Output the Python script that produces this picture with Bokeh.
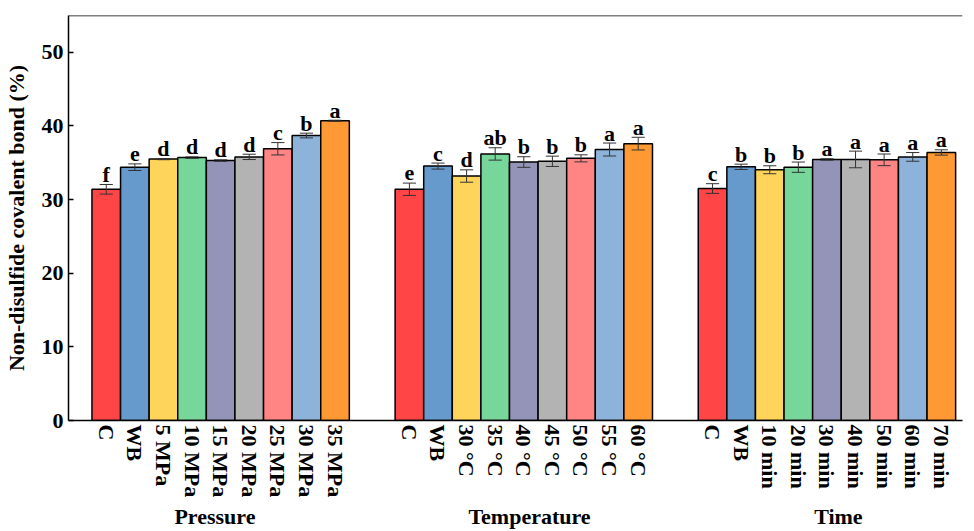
from bokeh.plotting import figure
from bokeh.models import Range1d, LinearAxis, FixedTicker, Span, ColumnDataSource
from bokeh.embed import file_html
from bokeh.resources import INLINE
from bokeh.core.properties import value

groups = ["Pressure", "Temperature", "Time"]

pressure_labels = ["C", "WB", "5 MPa", "10 MPa", "15 MPa", "20 MPa", "25 MPa", "30 MPa", "35 MPa"]
pressure_mean = [31.4, 34.4, 35.5, 35.7, 35.3, 35.8, 36.9, 38.7, 40.7]
pressure_sd = [0.65, 0.45, 0.08, 0.1, 0.1, 0.36, 0.84, 0.32, 0.08]
pressure_letters = ["f", "e", "d", "d", "d", "d", "c", "b", "a"]

temperature_labels = ["C", "WB", "30 °C", "35 °C", "40 °C", "45 °C", "50 °C", "55 °C", "60 °C"]
temperature_mean = [31.4, 34.55, 33.2, 36.2, 35.1, 35.2, 35.6, 36.8, 37.6]
temperature_sd = [0.84, 0.41, 0.84, 0.84, 0.72, 0.7, 0.48, 0.88, 0.86]
temperature_letters = ["e", "c", "d", "ab", "b", "b", "b", "a", "a"]

time_labels = ["C", "WB", "10 min", "20 min", "30 min", "40 min", "50 min", "60 min", "70 min"]
time_mean = [31.5, 34.45, 34.05, 34.4, 35.45, 35.45, 35.4, 35.8, 36.4]
time_sd = [0.66, 0.36, 0.54, 0.7, 0.1, 1.13, 0.79, 0.59, 0.36]
time_letters = ["c", "b", "b", "b", "a", "a", "a", "a", "a"]

bar_colors = ["#FF4545", "#6699CC", "#FFD45A", "#77D69A", "#9494B8",
              "#B3B3B3", "#FF8585", "#8DB3DA", "#FF9933"]

y_ticks = [0, 10, 20, 30, 40, 50]

FONT_NAME = "Liberation Serif"
FONT = value(FONT_NAME)
FS = "22px"

# layout in bar units (1 bar = 5 x-units)
BAR = 5
GROUP_STEP = 53
group_label_shift = [-1, 1, 2]

labels_all = pressure_labels + temperature_labels + time_labels
means_all = pressure_mean + temperature_mean + time_mean
sds_all = pressure_sd + temperature_sd + time_sd
letters_all = pressure_letters + temperature_letters + time_letters
xs = [g * GROUP_STEP + BAR * i for g in range(3) for i in range(9)]
cols = bar_colors * 3
cap = 1.15

src = ColumnDataSource(dict(
    x=xs, top=means_all,
    lo=[m - s for m, s in zip(means_all, sds_all)],
    hi=[m + s for m, s in zip(means_all, sds_all)],
    capl=[x - cap for x in xs], capr=[x + cap for x in xs],
    color=cols, letter=letters_all,
))

p = figure(width=964, height=531, output_backend="svg", toolbar_location=None,
           x_range=Range1d(-6.6, 149.7), y_range=Range1d(0, 55),
           x_axis_location=None, y_axis_location=None,
           min_border_left=59, min_border_right=2, min_border_top=15, min_border_bottom=111)
p.grid.visible = False
p.outline_line_color = None
p.background_fill_color = "white"

p.vbar(x="x", top="top", bottom=0, width=BAR, fill_color="color",
       line_color="black", line_width=1.5, source=src)
p.segment(x0="x", y0="lo", x1="x", y1="hi", line_color="#333333", line_width=1, source=src)
p.segment(x0="capl", y0="hi", x1="capr", y1="hi", line_color="#333333", line_width=1, source=src)
p.segment(x0="capl", y0="lo", x1="capr", y1="lo", line_color="#333333", line_width=1, source=src)
p.text(x="x", y="hi", text="letter", source=src, text_font=FONT, text_font_style="bold",
       text_font_size=FS, text_align="center", text_baseline="alphabetic", y_offset=-10,
       text_color="black")

yaxis = LinearAxis(ticker=FixedTicker(ticks=y_ticks),
                   axis_label="Non-disulfide covalent bond (%)",
                   axis_label_text_font=FONT_NAME, axis_label_text_color="black",
                   axis_label_text_font_style="bold", axis_label_text_font_size=FS,
                   axis_label_standoff=10,
                   major_label_text_font=FONT_NAME, major_label_text_font_style="bold",
                   major_label_text_color="black",
                   major_label_text_font_size=FS, major_label_standoff=5,
                   major_tick_in=5, major_tick_out=0, minor_tick_in=0, minor_tick_out=0,
                   axis_line_width=1.5, major_tick_line_width=1.5)
p.add_layout(yaxis, "left")

xaxis = LinearAxis(ticker=FixedTicker(ticks=xs),
                   major_label_overrides={x: l for x, l in zip(xs, labels_all)},
                   major_label_orientation="vertical",
                   major_label_text_font=FONT_NAME, major_label_text_font_style="bold",
                   major_label_text_color="black",
                   major_label_text_font_size=FS, major_label_standoff=4,
                   major_tick_in=0, major_tick_out=0, minor_tick_in=0, minor_tick_out=0,
                   axis_line_width=1.5)
p.add_layout(xaxis, "below")

group_x = [g * GROUP_STEP + BAR * 4 + group_label_shift[g] for g in range(3)]
gaxis = LinearAxis(ticker=FixedTicker(ticks=group_x),
                   major_label_overrides={x: n for x, n in zip(group_x, groups)},
                   major_label_text_font=FONT_NAME, major_label_text_font_style="bold",
                   major_label_text_color="black",
                   major_label_text_font_size=FS, major_label_standoff=3,
                   major_tick_in=0, major_tick_out=0, minor_tick_in=0, minor_tick_out=0,
                   axis_line_color=None)
p.add_layout(gaxis, "below")

p.add_layout(Span(location=55, dimension="width", line_color="black", line_width=1.5))

open("out.html", "w").write(file_html(p, INLINE))
